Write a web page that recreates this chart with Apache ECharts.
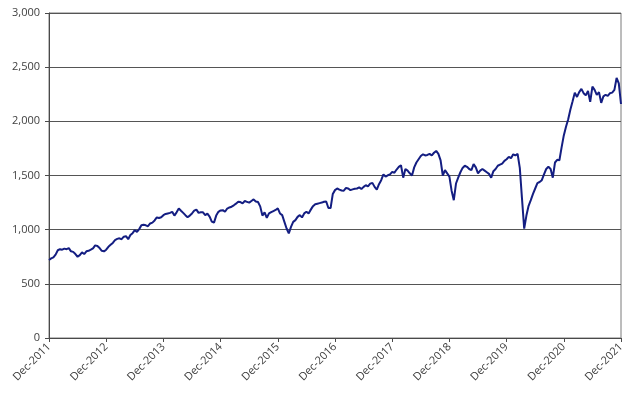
<!DOCTYPE html>
<html>
<head>
<meta charset="utf-8">
<script src="https://cdn.jsdelivr.net/npm/echarts@6/dist/echarts.min.js"></script>
<style>html,body{margin:0;padding:0;background:#fff;}#c{width:637px;height:394px;}</style>
</head>
<body>
<div id="c"></div>
<script>
// Tick labels (one per year; 26 fortnightly samples per year)
const yearLabels = ['Dec-2011','Dec-2012','Dec-2013','Dec-2014','Dec-2015','Dec-2016','Dec-2017','Dec-2018','Dec-2019','Dec-2020','Dec-2021'];
const stepsPerYear = 26;

// Fortnightly index values
const values2012 = [720,735,745,770,810,820,815,825,820,830,800,795,775,750,765,790,775,800,805,815,827,855,850,830,805,800,815];
const values2013 = [842,860,878,904,915,920,912,935,940,912,950,968,995,980,1005,1040,1045,1040,1032,1057,1065,1085,1113,1108,1115,1134];
const values2014 = [1145,1150,1155,1165,1130,1160,1196,1175,1155,1134,1115,1130,1150,1175,1185,1155,1160,1160,1134,1148,1120,1075,1065,1130,1165,1178];
const values2015 = [1180,1165,1195,1205,1212,1225,1240,1257,1255,1243,1264,1257,1250,1265,1279,1260,1255,1215,1130,1160,1110,1150,1162,1172,1182,1196];
const values2016 = [1150,1134,1072,1011,965,1026,1072,1088,1118,1134,1113,1150,1165,1150,1185,1217,1235,1240,1245,1250,1258,1260,1200,1200,1330,1365];
const values2017 = [1380,1370,1362,1360,1385,1380,1365,1372,1378,1380,1390,1375,1395,1410,1400,1425,1432,1395,1370,1420,1457,1510,1490,1502,1510,1533];
const values2018 = [1525,1555,1580,1595,1480,1560,1545,1520,1500,1575,1620,1650,1680,1696,1685,1690,1700,1685,1710,1727,1700,1640,1500,1549,1520,1490];
const values2019 = [1360,1272,1426,1480,1530,1570,1590,1580,1560,1549,1605,1575,1520,1545,1560,1545,1530,1515,1480,1540,1560,1590,1600,1610,1635,1650];
const values2020 = [1672,1660,1696,1685,1700,1570,1287,1010,1130,1220,1272,1330,1380,1430,1440,1457,1510,1560,1580,1560,1480,1620,1645,1641,1760,1870];
const values2021 = [1950,2020,2110,2185,2265,2225,2270,2300,2260,2240,2280,2180,2320,2290,2245,2270,2170,2230,2245,2235,2260,2265,2290,2400,2350,2160];

const yTicks = [0,500,1000,1500,2000,2500,3000];

const series = [].concat(values2012, values2013, values2014, values2015, values2016, values2017, values2018, values2019, values2020, values2021);
const categories = series.map((v, i) => i);

const chart = echarts.init(document.getElementById('c'), null, {renderer: 'canvas'});
const isYearTick = (idx) => idx % stepsPerYear === 0;
chart.setOption({
  animation: false,
  backgroundColor: '#ffffff',
  textStyle: {fontFamily: 'Open Sans'},
  grid: {left: 49, right: 16, top: 13, bottom: 56, show: true, borderColor: '#7a7a7a', borderWidth: 1, outerBoundsMode: 'none'},
  xAxis: {
    type: 'category',
    data: categories,
    boundaryGap: false,
    axisLine: {lineStyle: {color: '#4a4a4a', width: 1}},
    axisTick: {show: true, interval: (i) => isYearTick(i), length: 4, lineStyle: {color: '#4a4a4a'}},
    axisLabel: {
      interval: (i) => isYearTick(i),
      rotate: 45,
      margin: 7,
      color: '#404040',
      fontSize: 11,
      fontFamily: 'Open Sans',
      formatter: (v, i) => yearLabels[Math.round(Number(v) / stepsPerYear)]
    },
    splitLine: {show: false}
  },
  yAxis: {
    type: 'value',
    min: yTicks[0],
    max: yTicks[yTicks.length - 1],
    interval: 500,
    axisLine: {show: true, lineStyle: {color: '#4a4a4a', width: 1}},
    axisTick: {show: true, length: 4, lineStyle: {color: '#4a4a4a'}},
    axisLabel: {
      color: '#404040',
      fontSize: 11,
      fontFamily: 'Open Sans',
      margin: 9,
      formatter: (v) => v.toLocaleString('en-US')
    },
    splitLine: {show: true, lineStyle: {color: '#555555', width: 1}}
  },
  series: [{
    type: 'line',
    data: series,
    showSymbol: false,
    symbol: 'none',
    smooth: false,
    lineStyle: {color: '#141e82', width: 2},
    z: 5
  }]
});
</script>
</body>
</html>
